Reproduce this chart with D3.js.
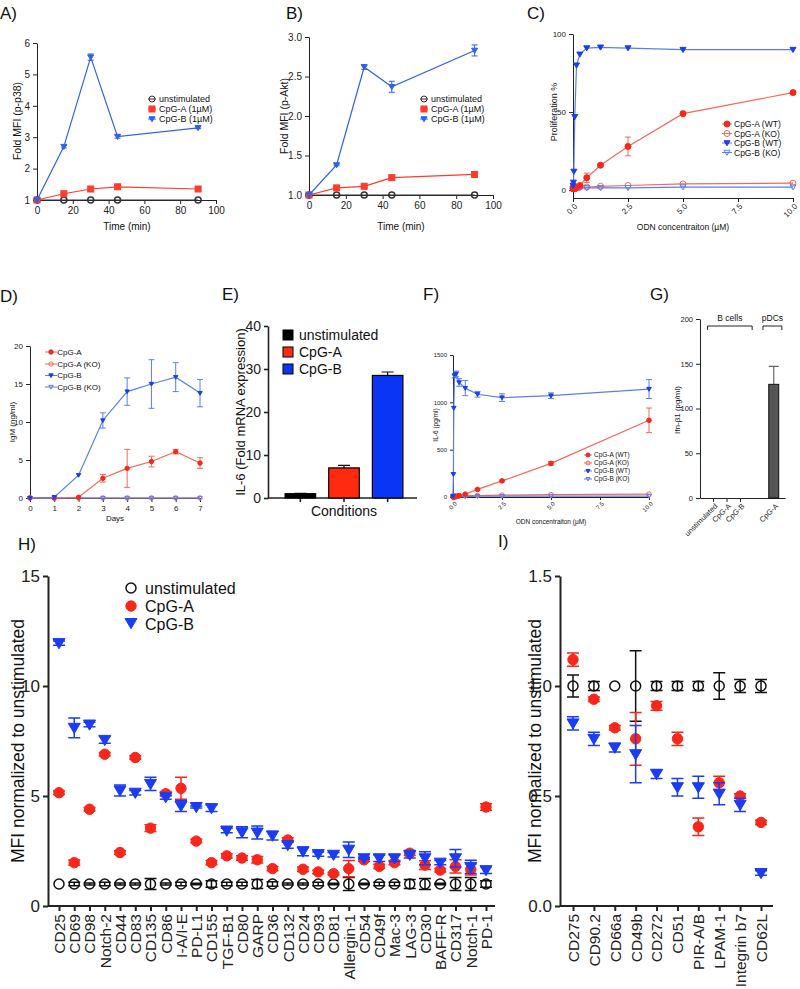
<!DOCTYPE html>
<html lang="en">
<head>
<meta charset="utf-8">
<title>CpG figure</title>
<script src="https://d3js.org/d3.v7.min.js"></script>
<style>
  body { margin: 0; background: #fff; }
  svg { display: block; background: #fff; }
</style>
</head>
<body>
<svg id="chart" width="800" height="989"></svg>
<script>
// ---- data ----
// A) p-p38, B) p-Akt
var timeMin = [0, 15, 30, 45, 90];
var p38Unstim = [1, 1, 1, 1, 1];
var p38CpgA = [1, 1.2, 1.35, 1.42, 1.35];
var p38CpgB = [1, 2.7, 5.55, 3.02, 3.3];
var p38CpgBErr = [0, 0.04, 0.1, 0.05, 0.03];
var aktUnstim = [1, 1, 1, 1, 1];
var aktCpgA = [1, 1.09, 1.11, 1.22, 1.26];
var aktCpgAErr = [0, 0.01, 0.01, 0.02, 0.01];
var aktCpgB = [1, 1.38, 2.62, 2.37, 2.83];
var aktCpgBErr = [0, 0.01, 0.03, 0.07, 0.07];

// C) proliferation, F) IL-6 protein (same dilution series)
var odnConc = [0, 0.02, 0.04, 0.08, 0.16, 0.31, 0.625, 1.25, 2.5, 5, 10];
var proCpgAWT = [1, 1, 1, 1, 1.5, 3, 8, 16, 28, 49, 62.5];
var proCpgAWTErr = [0, 0, 0, 0, 0, 0.5, 3, 1, 6, 1, 1];
var proCpgAKO = [2, 2, 2, 2, 2, 2, 2, 2.5, 3, 4, 4.5];
var proCpgBWT = [3, 5, 12, 47, 80, 87, 91, 91.5, 91, 90, 90];
var proCpgBKO = [1, 1, 1, 1, 1, 1.5, 1.5, 1.5, 1.5, 2, 2];

var il6CpgAWT = [0, 0, 0, 0, 5, 15, 30, 80, 170, 355, 810];
var il6CpgAWTErr = [0, 0, 0, 0, 0, 0, 5, 10, 10, 20, 130];
var il6CpgAKO = [10, 10, 10, 10, 10, 12, 15, 15, 20, 25, 30];
var il6CpgBWT = [10, 240, 940, 1280, 1300, 1210, 1150, 1085, 1050, 1070, 1140];
var il6CpgBWTErr = [0, 0, 0, 20, 30, 40, 80, 30, 40, 30, 100];
var il6CpgBKO = [5, 5, 5, 5, 5, 5, 5, 8, 8, 10, 10];

// D) IgM
var days = [0, 1, 2, 3, 4, 5, 6, 7];
var igmCpgA = [0, 0, 0.1, 2.6, 3.9, 4.8, 6.1, 4.6];
var igmCpgAErr = [0, 0, 0, 0.5, 2.5, 0.7, 0.3, 0.7];
var igmCpgAKO = [0, 0, 0, 0, 0, 0, 0, 0];
var igmCpgB = [0, 0.1, 3, 10.2, 14, 15, 15.9, 13.8];
var igmCpgBErr = [0, 0, 0, 1, 1.8, 3.2, 1.9, 1.8];
var igmCpgBKO = [0, 0, 0, 0, 0, 0, 0, 0];

// E) IL-6 mRNA
var eConditions = ["unstimulated", "CpG-A", "CpG-B"];
var eValues = [1, 7, 28.5];
var eErr = [0.1, 0.6, 0.8];

// G) Ifn-b1
var gLabels = ["unstimulated", "CpG-A", "CpG-B", "CpG-A"];
var gPos = [0, 1, 2, 4.5];
var gValues = [0, 0, 0, 127];
var gErr = [0, 0, 0, 20];

// H) markers up-regulated
var hCats = ["CD25", "CD69", "CD98", "Notch-2", "CD44", "CD83", "CD135", "CD86", "I-A/I-E", "PD-L1",
  "CD155", "TGF-B1", "CD80", "GARP", "CD36", "CD132", "CD24", "CD93", "CD81", "Allergin-1",
  "CD54", "CD49f", "Mac-3", "LAG-3", "CD30", "BAFF-R", "CD317", "Notch-1", "PD-1"];
var hUnstim = hCats.map(function () { return 1; });
var hUnstimErr = [0, 0.08, 0.05, 0.08, 0.05, 0.05, 0.25, 0.05, 0.08, 0.03, 0.15, 0.08, 0.08, 0.2, 0.1,
  0.05, 0.05, 0.08, 0.03, 0.3, 0.03, 0.08, 0.08, 0.2, 0.25, 0.03, 0.3, 0.3, 0.15];
var hCpgA = [5.15, 1.97, 4.4, 6.9, 2.43, 6.75, 3.54, 5.1, 5.35, 2.95, 1.97, 2.28, 2.18, 2.1, 1.7,
  3.0, 1.67, 1.55, 1.47, 1.7, 2.1, 1.8, 1.97, 2.4, 1.86, 1.63, 1.8, 1.66, 4.5];
var hCpgAErr = [0.08, 0.12, 0.08, 0.08, 0.08, 0.08, 0.15, 0.1, 0.5, 0.08, 0.1, 0.1, 0.1, 0.15, 0.1,
  0.1, 0.1, 0.08, 0.05, 0.37, 0.08, 0.1, 0.1, 0.1, 0.2, 0.08, 0.3, 0.25, 0.15];
var hCpgB = [11.95, 8.1, 8.25, 7.55, 5.25, 5.15, 5.55, 4.95, 4.55, 4.5, 4.45, 3.43, 3.35, 3.34, 3.2,
  2.77, 2.48, 2.36, 2.33, 2.56, 2.17, 2.17, 2.17, 2.33, 2.17, 1.97, 2.17, 1.78, 1.63];
var hCpgBErr = [0.1, 0.45, 0.1, 0.15, 0.25, 0.1, 0.3, 0.1, 0.25, 0.05, 0.15, 0.1, 0.25, 0.3, 0.2,
  0.15, 0.2, 0.1, 0.1, 0.35, 0.05, 0.15, 0.15, 0.15, 0.3, 0.1, 0.4, 0.3, 0.15];

// I) markers down-regulated
var iCats = ["CD275", "CD90.2", "CD66a", "CD49b", "CD272", "CD51", "PIR-A/B", "LPAM-1", "Integrin b7", "CD62L"];
var iUnstim = iCats.map(function () { return 1; });
var iUnstimErr = [0.05, 0.02, 0, 0.16, 0.02, 0.02, 0.02, 0.06, 0.03, 0.03];
var iCpgA = [1.12, 0.94, 0.81, 0.76, 0.91, 0.76, 0.36, 0.56, 0.5, 0.38];
var iCpgAErr = [0.03, 0.01, 0.01, 0.12, 0.02, 0.03, 0.04, 0.03, 0.01, 0.01];
var iCpgB = [0.83, 0.76, 0.72, 0.69, 0.6, 0.54, 0.54, 0.51, 0.46, 0.15];
var iCpgBErr = [0.03, 0.03, 0.02, 0.13, 0.02, 0.04, 0.05, 0.05, 0.03, 0.01];

// ---- styling ----
var FONT = "'Liberation Sans', Arial, sans-serif";
var RED = "#f8261b", BLUE = "#1a3cf5", GREY = "#333";
var LRED = "#f2695a", LBLUE = "#5a7ef0";
var INT = d3.format("d"), ONE = d3.format(".1f");
var svg = d3.select("#chart");

function label(txt, x, y, size, opt) {
  opt = opt || {};
  var t = svg.append("text").attr("x", x).attr("y", y).text(txt)
    .style("font-family", FONT).style("font-size", size + "px")
    .attr("fill", opt.fill || "#111")
    .attr("text-anchor", opt.anchor || "start");
  if (opt.rotate) t.attr("transform", "rotate(" + opt.rotate + "," + x + "," + y + ")");
  return t;
}

function drawAxes(c) {
  var g = svg.append("g");
  var xa = d3.axisBottom(c.x).tickSize(c.tick || 4).tickSizeOuter(0);
  if (c.xTicks) xa.tickValues(c.xTicks);
  if (c.xFmt) xa.tickFormat(c.xFmt);
  var ya = d3.axisLeft(c.y).tickValues(c.yTicks).tickSize(c.tick || 4).tickSizeOuter(0)
    .tickFormat(c.yFmt || INT);
  var gx = g.append("g").attr("transform", "translate(0," + c.xAt + ")").call(xa);
  var gy = g.append("g").attr("transform", "translate(" + c.yAt + ",0)").call(ya);
  [gx, gy].forEach(function (a) {
    a.selectAll("text").style("font-size", c.font + "px").style("font-family", FONT).attr("fill", "#222");
    a.selectAll("path, line").attr("stroke", "#222").attr("stroke-width", c.sw || 1);
  });
  if (c.xRot) {
    gx.selectAll("text").attr("transform", "rotate(" + c.xRot + ")")
      .style("text-anchor", "end").attr("dx", "-0.4em").attr("dy", "0.3em");
  }
  if (c.noXText) gx.selectAll("text").remove();
  if (c.xDomainEnd) gx.select(".domain").attr("d", "M" + c.yAt + ",0H" + c.xDomainEnd);
  return {gx: gx, gy: gy};
}

function marker(shape, cx, cy, r, color, open, sw) {
  var el;
  if (shape === "circle") {
    el = svg.append("circle").attr("cx", cx).attr("cy", cy).attr("r", r);
  } else if (shape === "square") {
    el = svg.append("rect").attr("x", cx - r).attr("y", cy - r).attr("width", 2 * r).attr("height", 2 * r);
  } else {
    el = svg.append("path").attr("d", "M" + (cx - r) + "," + (cy - r * 0.75) + "L" + (cx + r) + "," +
      (cy - r * 0.75) + "L" + cx + "," + (cy + r * 0.95) + "Z");
  }
  el.attr("fill", open ? "none" : color).attr("stroke", color).attr("stroke-width", sw || 1);
  return el;
}

function series(x, y, xs, ys, errs, o) {
  var pts = xs.map(function (v, i) { return {x: x(v), v: ys[i], e: errs ? errs[i] : 0}; });
  if (o.line !== false) {
    svg.append("path")
      .attr("d", d3.line().x(function (d) { return d.x; }).y(function (d) { return y(d.v); })(pts))
      .attr("fill", "none").attr("stroke", o.lineColor || o.color).attr("stroke-width", o.lw || 1.2);
  }
  pts.forEach(function (d) {
    if (d.e > 0) {
      var ec = o.errColor || o.lineColor || o.color, cw = o.cap || 3;
      var y1 = y(d.v - d.e), y2 = y(d.v + d.e);
      svg.append("path").attr("d", "M" + d.x + "," + y1 + "V" + y2 +
        "M" + (d.x - cw) + "," + y1 + "h" + 2 * cw + "M" + (d.x - cw) + "," + y2 + "h" + 2 * cw)
        .attr("stroke", ec).attr("stroke-width", o.ew || 1).attr("fill", "none");
    }
    marker(o.shape, d.x, y(d.v), o.r, o.color, o.open, o.msw);
  });
}

function legendRow(x, y, shape, r, color, open, txt, size, lineLen, lineColor) {
  if (lineLen) {
    svg.append("line").attr("x1", x - lineLen).attr("x2", x + lineLen).attr("y1", y).attr("y2", y)
      .attr("stroke", lineColor || color).attr("stroke-width", 1);
  }
  marker(shape, x, y, r, color, open, 1);
  label(txt, x + r + 4, y + size * 0.36, size);
}

// ---- panel titles ----
[["A)", 0, 19], ["B)", 286, 19], ["C)", 527, 19], ["D)", 0, 302], ["E)", 222, 300],
 ["F)", 423, 300], ["G)", 650, 300], ["H)", 18, 550], ["I)", 498, 547]].forEach(function (t) {
  label(t[0], t[1], t[2], 17);
});

// ---- A ----
(function () {
  var x = d3.scaleLinear().domain([0, 100]).range([37, 216]);
  var y = d3.scaleLinear().domain([1, 6]).range([200, 43]);
  drawAxes({x: x, y: y, xTicks: [0, 20, 40, 60, 80, 100], yTicks: [1, 2, 3, 4, 5, 6], xAt: 200, yAt: 37, font: 10});
  series(x, y, timeMin, p38Unstim, null, {color: GREY, shape: "circle", r: 3, open: true, msw: 1.5});
  series(x, y, timeMin, p38CpgA, null, {color: "#ff3b2a", shape: "square", r: 3});
  series(x, y, timeMin, p38CpgB, p38CpgBErr, {color: "#3060f0", shape: "tri", r: 3});
  label("Time (min)", 127, 230, 10, {anchor: "middle"});
  label("Fold MFI (p-p38)", 21, 121, 10.5, {anchor: "middle", rotate: -90});
  legendRow(152, 99, "circle", 3, GREY, true, "unstimulated", 9, 4);
  legendRow(152, 109, "square", 3, "#ff3b2a", false, "CpG-A (1\u00b5M)", 9, 4);
  legendRow(152, 119, "tri", 3, "#3060f0", false, "CpG-B (1\u00b5M)", 9, 4);
})();

// ---- B ----
(function () {
  var x = d3.scaleLinear().domain([0, 100]).range([309, 493]);
  var y = d3.scaleLinear().domain([1, 3]).range([195, 37]);
  drawAxes({x: x, y: y, xTicks: [0, 20, 40, 60, 80, 100], yTicks: [1, 1.5, 2, 2.5, 3], yFmt: ONE,
    xAt: 195, yAt: 309, font: 10});
  series(x, y, timeMin, aktUnstim, null, {color: GREY, shape: "circle", r: 3, open: true, msw: 1.5});
  series(x, y, timeMin, aktCpgA, aktCpgAErr, {color: "#ff3b2a", shape: "square", r: 3});
  series(x, y, timeMin, aktCpgB, aktCpgBErr, {color: "#3060f0", shape: "tri", r: 3});
  label("Time (min)", 401, 230, 10, {anchor: "middle"});
  label("Fold MFI (p-Akt)", 288, 116, 10.5, {anchor: "middle", rotate: -90});
  legendRow(424, 99, "circle", 3, GREY, true, "unstimulated", 9, 4);
  legendRow(424, 109, "square", 3, "#ff3b2a", false, "CpG-A (1\u00b5M)", 9, 4);
  legendRow(424, 119, "tri", 3, "#3060f0", false, "CpG-B (1\u00b5M)", 9, 4);
})();

// ---- C ----
(function () {
  var x = d3.scaleLinear().domain([0, 10]).range([573, 793]);
  var y = d3.scaleLinear().domain([-5, 100]).range([198, 34]);
  drawAxes({x: x, y: y, xTicks: [0, 2.5, 5, 7.5, 10], xFmt: ONE, yTicks: [0, 50, 100],
    xAt: 198, yAt: 573, font: 8, xRot: -45});
  series(x, y, odnConc, proCpgAKO, null, {color: LRED, shape: "circle", r: 3, open: true, lineColor: LRED});
  series(x, y, odnConc, proCpgBKO, null, {color: LBLUE, shape: "tri", r: 3, open: true, lineColor: LBLUE});
  series(x, y, odnConc, proCpgAWT, proCpgAWTErr, {color: RED, shape: "circle", r: 3, lineColor: LRED});
  series(x, y, odnConc, proCpgBWT, null, {color: BLUE, shape: "tri", r: 3, lineColor: LBLUE});
  label("ODN concentraiton (\u00b5M)", 683, 230, 8.5, {anchor: "middle"});
  label("Proliferation %", 557, 112, 9, {anchor: "middle", rotate: -90});
  legendRow(727, 124, "circle", 3, RED, false, "CpG-A (WT)", 8.5, 5, LRED);
  legendRow(727, 133.5, "circle", 3, LRED, true, "CpG-A (KO)", 8.5, 5, LRED);
  legendRow(727, 143, "tri", 3, BLUE, false, "CpG-B (WT)", 8.5, 5, LBLUE);
  legendRow(727, 152.5, "tri", 3, LBLUE, true, "CpG-B (KO)", 8.5, 5, LBLUE);
})();

// ---- D ----
(function () {
  var x = d3.scaleLinear().domain([0, 7]).range([30, 200]);
  var y = d3.scaleLinear().domain([0, 20]).range([498, 346]);
  drawAxes({x: x, y: y, xTicks: days, xFmt: INT, yTicks: [0, 5, 10, 15, 20], xAt: 498, yAt: 30, font: 8});
  series(x, y, days, igmCpgAKO, null, {color: LRED, shape: "circle", r: 2.2, open: true, lineColor: LRED});
  series(x, y, days, igmCpgBKO, null, {color: LBLUE, shape: "tri", r: 2.2, open: true, lineColor: LBLUE});
  series(x, y, days, igmCpgA, igmCpgAErr, {color: RED, shape: "circle", r: 2.2, lineColor: LRED, cap: 3});
  series(x, y, days, igmCpgB, igmCpgBErr, {color: BLUE, shape: "tri", r: 2.2, lineColor: LBLUE, cap: 3});
  label("Days", 115, 521, 8, {anchor: "middle"});
  label("IgM (ng/ml)", 15, 422, 8, {anchor: "middle", rotate: -90});
  legendRow(51, 352, "circle", 2.2, RED, false, "CpG-A", 8, 6, LRED);
  legendRow(51, 364, "circle", 2.2, LRED, true, "CpG-A (KO)", 8, 6, LRED);
  legendRow(51, 375.5, "tri", 2.2, BLUE, false, "CpG-B", 8, 6, LBLUE);
  legendRow(51, 387, "tri", 2.2, LBLUE, true, "CpG-B (KO)", 8, 6, LBLUE);
})();

// ---- E ----
(function () {
  var x = d3.scaleBand().domain(eConditions).range([272, 416]).padding(0.3);
  var y = d3.scaleLinear().domain([0, 40]).range([498, 326]);
  var ax = drawAxes({x: x, y: y, yTicks: [0, 10, 20, 30, 40], xAt: 498, yAt: 268, font: 14, sw: 1.6,
    noXText: true, xDomainEnd: 417});
  ax.gx.selectAll(".tick line").attr("y2", 4);
  var fills = ["#000", "#ff2a10", "#0a35f5"];
  eConditions.forEach(function (c, i) {
    var cx = x(c) + x.bandwidth() / 2, top = y(eValues[i] + eErr[i]);
    svg.append("path").attr("d", "M" + cx + "," + y(eValues[i]) + "V" + top + "M" + (cx - 6) + "," + top + "h12")
      .attr("stroke", "#111").attr("stroke-width", 1.2);
    svg.append("rect").attr("x", x(c)).attr("y", y(eValues[i])).attr("width", x.bandwidth())
      .attr("height", y(0) - y(eValues[i])).attr("fill", fills[i]).attr("stroke", "#000").attr("stroke-width", 1.2);
  });
  label("Conditions", 344, 516, 14, {anchor: "middle"});
  label("IL-6 (Fold mRNA expression)", 245, 412, 13, {anchor: "middle", rotate: -90});
  eConditions.forEach(function (c, i) {
    var yy = 335 + i * 17;
    svg.append("rect").attr("x", 283).attr("y", yy - 5).attr("width", 10).attr("height", 10)
      .attr("fill", fills[i]).attr("stroke", "#000").attr("stroke-width", 1);
    label(c, 299, yy + 5, 14);
  });
})();

// ---- F ----
(function () {
  var x = d3.scaleLinear().domain([0, 10]).range([453, 649]);
  var y = d3.scaleLinear().domain([0, 1500]).range([497, 355]);
  drawAxes({x: x, y: y, xTicks: [0, 2.5, 5, 7.5, 10], xFmt: ONE, yTicks: [0, 500, 1000, 1500],
    xAt: 497, yAt: 453, font: 6, xRot: -45, tick: 3});
  series(x, y, odnConc, il6CpgAKO, null, {color: LRED, shape: "circle", r: 2.3, open: true, lineColor: LRED});
  series(x, y, odnConc, il6CpgBKO, null, {color: LBLUE, shape: "tri", r: 2.3, open: true, lineColor: LBLUE});
  series(x, y, odnConc, il6CpgAWT, il6CpgAWTErr, {color: RED, shape: "circle", r: 2.3, lineColor: LRED, cap: 3});
  series(x, y, odnConc, il6CpgBWT, il6CpgBWTErr, {color: BLUE, shape: "tri", r: 2.3, lineColor: LBLUE, cap: 3});
  label("ODN concentraiton (\u00b5M)", 551, 524, 6.5, {anchor: "middle"});
  label("IL-6 (pg/ml)", 438, 425, 6.5, {anchor: "middle", rotate: -90});
  legendRow(588, 455, "circle", 2, RED, false, "CpG-A (WT)", 6.5, 4, LRED);
  legendRow(588, 463, "circle", 2, LRED, true, "CpG-A (KO)", 6.5, 4, LRED);
  legendRow(588, 471, "tri", 2, BLUE, false, "CpG-B (WT)", 6.5, 4, LBLUE);
  legendRow(588, 479, "tri", 2, LBLUE, true, "CpG-B (KO)", 6.5, 4, LBLUE);
})();

// ---- G ----
(function () {
  var x = d3.scaleLinear().domain([0, 1]).range([713, 726.5]);
  var y = d3.scaleLinear().domain([0, 200]).range([498, 319]);
  var xAxisScale = d3.scaleLinear().domain([x.invert(700), x.invert(785)]).range([700, 785]);
  var ax = drawAxes({x: xAxisScale, y: y, xTicks: gPos, yTicks: [0, 50, 100, 150, 200], xAt: 498, yAt: 700,
    font: 7.5, xFmt: function (d, i) { return gLabels[i]; }, xRot: -45});
  ax.gx.selectAll(".tick").filter(function (d, i) { return i === 3; }).select("line").remove();
  var bw = 10;
  gPos.forEach(function (p, i) {
    if (gValues[i] <= 0) return;
    var cx = x(p), top = y(gValues[i] + gErr[i]);
    svg.append("path").attr("d", "M" + cx + "," + y(gValues[i]) + "V" + top + "M" + (cx - 5) + "," + top + "h10")
      .attr("stroke", "#666").attr("stroke-width", 1.2);
    svg.append("rect").attr("x", cx - bw / 2).attr("y", y(gValues[i])).attr("width", bw)
      .attr("height", y(0) - y(gValues[i])).attr("fill", "#555").attr("stroke", "#111").attr("stroke-width", 1);
  });
  // group brackets
  [[x(-0.4), x(2.9), "B cells"], [x(3.7), x(5.1), "pDCs"]].forEach(function (b) {
    svg.append("path").attr("d", "M" + b[0] + ",330V326H" + b[1] + "V330")
      .attr("fill", "none").attr("stroke", "#222").attr("stroke-width", 1);
    label(b[2], (b[0] + b[1]) / 2, 321, 8.5, {anchor: "middle"});
  });
  label("Ifn-\u03b21 (pg/ml)", 680, 410, 8, {anchor: "middle", rotate: -90});
})();

// ---- H and I (dot plots) ----
function dotPanel(cats, xr, yAt, axisEnd, unstim, unstimErr, cpgA, cpgAErr, cpgB, cpgBErr, yTicks, yFmt) {
  var x = d3.scalePoint().domain(cats).range(xr);
  var y = d3.scaleLinear().domain([0, yTicks[yTicks.length - 1]]).range([906, 576]);
  var ax = drawAxes({x: x, y: y, yTicks: yTicks, yFmt: yFmt, xAt: 906, yAt: yAt, font: 17, sw: 2, tick: 5,
    xDomainEnd: axisEnd});
  ax.gx.selectAll("text").attr("transform", "rotate(-90)").style("text-anchor", "end")
    .attr("x", -8).attr("y", 0).attr("dy", "0.35em").style("font-size", "15.5px");
  series(x, y, cats, unstim, unstimErr, {color: "#111", shape: "circle", r: 5, open: true, msw: 1.5,
    line: false, cap: 6, ew: 1.5});
  series(x, y, cats, cpgA, cpgAErr, {color: RED, shape: "circle", r: 5.2, line: false, cap: 6, ew: 1.5});
  series(x, y, cats, cpgB, cpgBErr, {color: BLUE, shape: "tri", r: 6, line: false, cap: 6, ew: 1.5});
}

dotPanel(hCats, [59, 486], 48, 495, hUnstim, hUnstimErr, hCpgA, hCpgAErr, hCpgB, hCpgBErr, [0, 5, 10, 15], INT);
label("MFI normalized to unstimulated", 24, 741, 17.5, {anchor: "middle", rotate: -90});
marker("circle", 131, 588, 5, "#111", true, 1.5);
label("unstimulated", 145, 594, 16);
marker("circle", 131, 606, 5.2, RED, false, 1);
label("CpG-A", 145, 612, 16);
marker("tri", 131, 623, 6, BLUE, false, 1);
label("CpG-B", 145, 630, 16);

dotPanel(iCats, [573, 761], 560, 773, iUnstim, iUnstimErr, iCpgA, iCpgAErr, iCpgB, iCpgBErr,
  [0, 0.5, 1, 1.5], ONE);
label("MFI normalized to unstimulated", 541, 741, 17.5, {anchor: "middle", rotate: -90});
</script>
</body>
</html>
